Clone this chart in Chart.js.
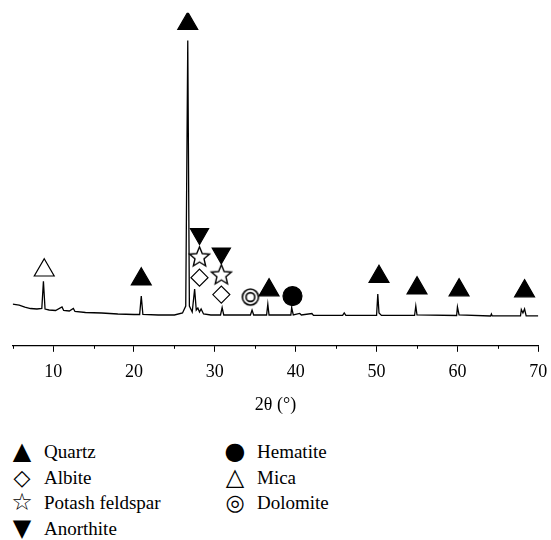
<!DOCTYPE html>
<html>
<head>
<meta charset="utf-8">
<script src="https://cdn.jsdelivr.net/npm/chart.js@4/dist/chart.umd.min.js"></script>
<style>
  html, body { margin: 0; padding: 0; background: #fff; }
  #wrap { position: relative; width: 551px; height: 540px; }
  #xrd { position: absolute; left: 0; top: 0; }
  .leg { position: absolute; font-family: "Liberation Serif", "DejaVu Serif", serif; font-size: 19px; color: #000; }
  .leg div { height: 25.5px; line-height: 25.5px; white-space: nowrap; }
  .sym { display: inline-block; width: 26px; text-align: center; font-family: "DejaVu Sans", sans-serif; font-size: 24px; margin-right: 9px; vertical-align: top; }
  .sym.sm { font-size: 22px; }
</style>
</head>
<body>
<div id="wrap">
  <canvas id="xrd" width="551" height="420"></canvas>
  <div class="leg" style="left:9px; top:439px;">
    <div><span class="sym">▲</span>Quartz</div>
    <div><span class="sym sm">◇</span>Albite</div>
    <div><span class="sym">☆</span>Potash feldspar</div>
    <div><span class="sym">▼</span>Anorthite</div>
  </div>
  <div class="leg" style="left:222px; top:439px;">
    <div><span class="sym">●</span>Hematite</div>
    <div><span class="sym">△</span>Mica</div>
    <div><span class="sym sm">◎</span>Dolomite</div>
  </div>
</div>
<script>
// XRD pattern, intensity in arbitrary units
const twoTheta = [
  5.0, 5.8, 6.5, 7.2, 8.0, 8.6, 8.8, 9.0, 9.5, 10.3, 11.1, 11.3, 12.0, 12.5, 12.7,
  14.0, 16.0, 18.0, 20.0, 20.7, 20.9, 21.1, 23.0, 25.0, 26.0, 26.4, 26.65, 26.85,
  27.2, 27.5, 27.7, 27.9, 28.1, 28.3, 28.6, 29.5, 30.7, 30.9, 31.1, 33.0, 34.4,
  34.6, 34.8, 36.4, 36.55, 36.7, 39.4, 39.5, 39.7, 40.5, 40.7, 42.0, 42.2, 45.8,
  46.0, 46.2, 50.0, 50.15, 50.3, 50.6, 54.7, 54.85, 55.0, 59.9, 60.0, 60.2, 64.1,
  64.2, 64.3, 67.8, 67.9, 68.1, 68.3, 68.5, 70.0
];
const intensity = [
  42, 41, 39, 37.5, 37, 37.5, 65, 37, 36, 35.5, 39, 35.5, 35, 37.5, 34.5,
  33.5, 33, 32, 31.5, 31.5, 50, 31.5, 31, 31, 33, 40, 307, 40,
  34, 57, 36, 38, 34, 37, 32, 31, 31, 38.5, 31, 31, 31,
  36, 31, 31, 42, 31, 31, 38.5, 31, 32.5, 31, 32.5, 30.5, 30.5,
  33, 30.5, 30.5, 52, 33, 30.5, 30.5, 40, 31, 30.5, 39, 31, 30,
  32, 30, 30, 36.5, 33, 37, 30, 30
];

// phase markers: [2theta, height]
const quartzX = [20.9, 26.65, 36.7, 50.3, 55.0, 60.2, 68.3];
const quartzY = [67, 324, 56, 69.5, 58, 56, 55];
const albiteX = [28.1, 30.8];
const albiteY = [68.5, 51.5];
const feldsparX = [28.1, 30.8];
const feldsparY = [90, 72];
const anorthiteX = [28.1, 30.8];
const anorthiteY = [112.5, 93];
const hematiteX = [39.6];
const hematiteY = [50];
const micaX = [8.9];
const micaY = [76];
const dolomiteX = [34.4];
const dolomiteY = [49];

const xTicks = { min: 5, max: 70, step: 5 };
const SERIF = "'Liberation Serif', 'DejaVu Serif', serif";

function pts(xs, ys) {
  return xs.map((x, i) => ({ x: x, y: ys[i] }));
}

function starIcon(R) {
  const c = document.createElement("canvas");
  const s = Math.ceil(R * 2 + 4);
  c.width = s; c.height = s;
  const g = c.getContext("2d");
  const cx = s / 2, cy = s / 2 + R * 0.1;
  g.beginPath();
  for (let i = 0; i < 10; i++) {
    const r = i % 2 ? R * 0.45 : R;
    const a = -Math.PI / 2 + i * Math.PI / 5;
    g.lineTo(cx + r * Math.cos(a), cy + r * Math.sin(a));
  }
  g.closePath();
  g.fillStyle = "#fff";
  g.fill();
  g.lineWidth = 1.4;
  g.strokeStyle = "#000";
  g.stroke();
  return c;
}

function ringIcon(R) {
  const c = document.createElement("canvas");
  const s = Math.ceil(R * 2 + 4);
  c.width = s; c.height = s;
  const g = c.getContext("2d");
  g.fillStyle = "#fff";
  g.beginPath(); g.arc(s / 2, s / 2, R, 0, Math.PI * 2); g.fill();
  g.lineWidth = 1.6;
  g.strokeStyle = "#000";
  g.beginPath(); g.arc(s / 2, s / 2, R, 0, Math.PI * 2); g.stroke();
  g.beginPath(); g.arc(s / 2, s / 2, R * 0.55, 0, Math.PI * 2); g.stroke();
  return c;
}

// short ticks at the odd multiples of 5
const minorTicks = {
  id: "minorTicks",
  afterDraw(chart) {
    const s = chart.scales.x;
    const ctx = chart.ctx;
    ctx.save();
    ctx.strokeStyle = "#000";
    ctx.lineWidth = 1;
    s.ticks.forEach((t) => {
      if (t.value % 10 === 0) return;
      const x = Math.round(s.getPixelForValue(t.value)) + 0.5;
      ctx.beginPath();
      ctx.moveTo(x, s.top);
      ctx.lineTo(x, s.top + 3);
      ctx.stroke();
    });
    ctx.restore();
  },
};

function marker(label, xs, ys, style, fill, radius, rotation) {
  return {
    label: label,
    type: "scatter",
    data: pts(xs, ys),
    pointStyle: style,
    pointRadius: radius,
    pointRotation: rotation || 0,
    pointBackgroundColor: fill,
    pointBorderColor: "#000",
    pointBorderWidth: 1.2,
    showLine: false,
    order: 1,
  };
}

new Chart(document.getElementById("xrd"), {
  type: "line",
  data: {
    datasets: [
      marker("Quartz", quartzX, quartzY, "triangle", "#000", 11.5),
      marker("Albite", albiteX, albiteY, "rectRot", "#fff", 8.5),
      marker("Potash feldspar", feldsparX, feldsparY, starIcon(10.5), "#fff", 10),
      marker("Anorthite", anorthiteX, anorthiteY, "triangle", "#000", 10.5, 180),
      marker("Hematite", hematiteX, hematiteY, "circle", "#000", 9.5),
      marker("Mica", micaX, micaY, "triangle", "#fff", 11.5),
      marker("Dolomite", dolomiteX, dolomiteY, ringIcon(8), "#fff", 8),
      {
        label: "XRD",
        data: pts(twoTheta, intensity),
        borderColor: "#000",
        borderWidth: 1.3,
        pointRadius: 0,
        tension: 0,
        fill: false,
        order: 10,
      },
    ],
  },
  options: {
    responsive: false,
    animation: false,
    layout: { padding: { left: 12, right: 11, top: 10, bottom: 0 } },
    scales: {
      x: {
        type: "linear",
        min: xTicks.min,
        max: xTicks.max,
        // plot spans the full width; the "70" label may hang into the margin
        afterFit: (scale) => {
          scale.paddingLeft = 0;
          scale.paddingRight = 0;
        },
        grid: {
          drawOnChartArea: false,
          drawTicks: true,
          tickLength: 6,
          tickColor: (c) => (c.tick && c.tick.value % 10 === 0 ? "#000" : "rgba(0,0,0,0)"),
        },
        border: { color: "#000", width: 1.2 },
        ticks: {
          stepSize: xTicks.step,
          autoSkip: false,
          maxRotation: 0,
          padding: 10,
          color: "#000",
          font: { family: SERIF, size: 18 },
          callback: (v) => (v % 10 === 0 ? v : ""),
        },
        title: {
          display: true,
          text: "2θ (°)",
          color: "#000",
          font: { family: SERIF, size: 18 },
          padding: { top: 1, bottom: 4 },
        },
      },
      y: { display: false, min: 0, max: 335 },
    },
    plugins: {
      legend: { display: false },
      tooltip: { enabled: false },
    },
  },
  plugins: [minorTicks],
});
</script>
</body>
</html>
